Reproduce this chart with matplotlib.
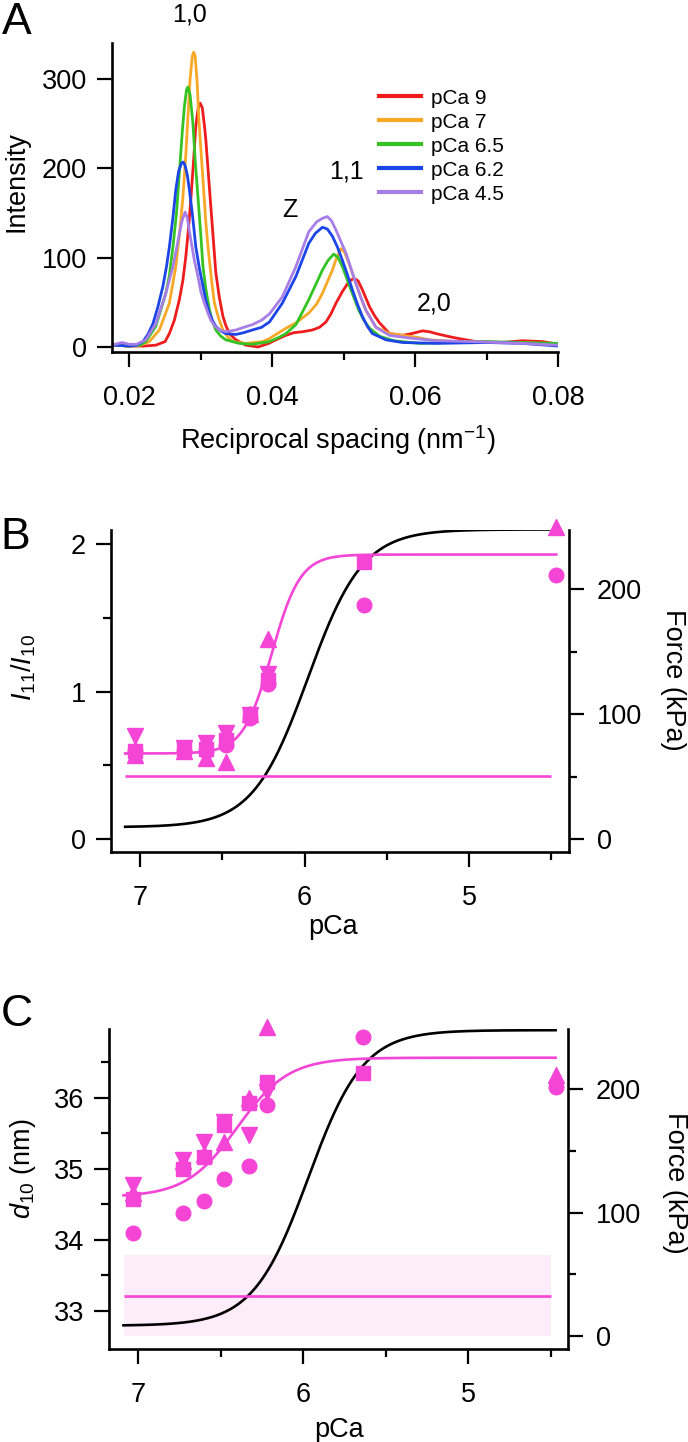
import numpy as np
import matplotlib
matplotlib.use('Agg')
import matplotlib.pyplot as plt
from matplotlib.ticker import FixedLocator

plt.rcParams['font.family'] = ['Liberation Sans', 'DejaVu Sans']
plt.rcParams['mathtext.fontset'] = 'custom'
plt.rcParams['mathtext.rm'] = 'Liberation Sans'
plt.rcParams['mathtext.it'] = 'Liberation Sans:italic'
plt.rcParams['mathtext.bf'] = 'Liberation Sans:bold'

# ---------------- Panel A data (reciprocal spacing, intensity) ----------------
q_pca9 = [0.018, 0.020, 0.022, 0.0237, 0.0250, 0.0256, 0.0263, 0.0270, 0.0275, 0.0279, 0.0283,
          0.0286, 0.0290, 0.0293, 0.0296, 0.0299, 0.0302, 0.0305, 0.0307, 0.0310, 0.0314, 0.0318,
          0.0321, 0.0326, 0.0331, 0.0335, 0.0340, 0.0349, 0.0363, 0.0380, 0.0395, 0.0405, 0.0419,
          0.0430, 0.0442, 0.0456, 0.0466, 0.0475, 0.0482, 0.0489, 0.0498, 0.0507, 0.0514, 0.0520,
          0.0526, 0.0536, 0.0543, 0.0550, 0.0564, 0.0582, 0.0595, 0.0610, 0.0620, 0.0629, 0.0645,
          0.0657, 0.0685, 0.0722, 0.0750, 0.0778, 0.0800]
i_pca9 = [2, 1, 1, 2, 6, 15, 30, 53, 75, 101, 135,
          165, 210, 247, 266, 273, 268, 248, 232, 200, 157, 115,
          83, 55, 34, 24, 15, 8, 2, 0, 4, 8, 13,
          16, 17, 19, 22, 28, 37, 49, 62, 73, 77, 74,
          64, 45, 35, 27, 15, 13, 15, 18, 17, 15, 12,
          10, 6, 5, 7, 6, 3]

q_pca7 = [0.018, 0.020, 0.0215, 0.0228, 0.0242, 0.0256, 0.0265, 0.0270, 0.0275, 0.0279, 0.0282,
          0.0285, 0.0288, 0.0290, 0.0292, 0.0295, 0.0297, 0.0300, 0.0303, 0.0307, 0.0310, 0.0315,
          0.0319, 0.0325, 0.0331, 0.0338, 0.0345, 0.0363, 0.0386, 0.0395, 0.0405, 0.0419, 0.0433,
          0.0451, 0.0462, 0.0470, 0.0477, 0.0484, 0.0490, 0.0496, 0.0501, 0.0507, 0.0517, 0.0524,
          0.0531, 0.0545, 0.0564, 0.0582, 0.0601, 0.0620, 0.0657, 0.0700, 0.0750, 0.0800]
i_pca7 = [2, 1, 2, 6, 19, 49, 90, 125, 168, 215, 258,
          300, 325, 330, 326, 295, 258, 222, 187, 140, 112, 75,
          49, 32, 19, 11, 6, 4, 6, 9, 14, 21, 27,
          38, 48, 60, 73, 86, 100, 110, 106, 94, 71, 55,
          41, 22, 15, 13, 11, 8, 6, 5, 5, 3]

q_pca65 = [0.018, 0.020, 0.0215, 0.0223, 0.0237, 0.0251, 0.0256, 0.0261, 0.0266, 0.0270, 0.0274,
           0.0277, 0.0280, 0.0282, 0.0285, 0.0289, 0.0292, 0.0296, 0.0300, 0.0303, 0.0307, 0.0312,
           0.0316, 0.0321, 0.0328, 0.0335, 0.0354, 0.0372, 0.0396, 0.0410, 0.0419, 0.0433, 0.0451,
           0.0462, 0.0470, 0.0478, 0.0486, 0.0492, 0.0498, 0.0504, 0.0510, 0.0521, 0.0528, 0.0536,
           0.0550, 0.0570, 0.0606, 0.0650, 0.0700, 0.0750, 0.0800]
i_pca65 = [2, 1, 2, 6, 23, 60, 80, 112, 150, 195, 240,
           269, 288, 291, 282, 250, 210, 168, 125, 90, 65, 42,
           29, 19, 12, 8, 4, 3, 6, 11, 15, 25, 53,
           72, 86, 97, 104, 100, 90, 77, 64, 41, 30, 21,
           12, 7, 4, 5, 6, 5, 4]

q_pca62 = [0.018, 0.020, 0.0210, 0.0219, 0.0226, 0.0233, 0.0240, 0.0247, 0.0252, 0.0256, 0.0261,
           0.0265, 0.0269, 0.0273, 0.02755, 0.0278, 0.0281, 0.0284, 0.0288, 0.0293, 0.0298, 0.0303,
           0.0307, 0.0312, 0.0316, 0.0321, 0.0328, 0.0335, 0.0349, 0.0360, 0.0372, 0.0385, 0.0396,
           0.0414, 0.0433, 0.0451, 0.0460, 0.0470, 0.0477, 0.0484, 0.0491, 0.0498, 0.0505, 0.0512,
           0.0519, 0.0526, 0.0533, 0.0540, 0.0559, 0.0582, 0.0630, 0.0700, 0.0750, 0.0800]
i_pca62 = [2, 1, 2, 6, 14, 26, 45, 68, 90, 112, 145,
           176, 197, 206, 207, 203, 193, 176, 150, 112, 88, 68,
           52, 38, 30, 23, 18, 15, 14, 16, 19, 22, 28,
           49, 79, 116, 127, 134, 132, 124, 112, 97, 81, 64,
           48, 34, 23, 15, 8, 5, 4, 5, 4, 1]

q_pca45 = [0.018, 0.019, 0.020, 0.021, 0.0223, 0.0237, 0.0251, 0.0261, 0.0266, 0.0270, 0.0274,
           0.0278, 0.0281, 0.0286, 0.0291, 0.0296, 0.0300, 0.0305, 0.0310, 0.0314, 0.0320, 0.0326,
           0.0335, 0.0349, 0.0360, 0.0372, 0.0385, 0.0396, 0.0414, 0.0433, 0.0451, 0.0462, 0.0470,
           0.0477, 0.0483, 0.0489, 0.0496, 0.0503, 0.0510, 0.0517, 0.0524, 0.0531, 0.0545, 0.0564,
           0.0592, 0.0630, 0.0680, 0.0750, 0.0800]
i_pca45 = [3, 5, 3, 3, 8, 26, 60, 90, 110, 127, 142,
           151, 145, 120, 97, 79, 62, 49, 38, 30, 23, 19,
           17, 19, 22, 25, 30, 37, 56, 90, 129, 140, 144,
           146, 141, 131, 118, 105, 88, 71, 55, 41, 22, 13,
           10, 7, 6, 4, 2]

spectra_labels = ['pCa 9', 'pCa 7', 'pCa 6.5', 'pCa 6.2', 'pCa 4.5']
spectra_colors = ['#ee1c1c', '#f7a826', '#33c424', '#1c45e8', '#a77ee6']

peak_labels = ['1,0', '1,1', 'Z', '2,0']
peak_label_q = [0.02835, 0.0503, 0.0425, 0.0626]
peak_label_i = [372, 196, 153, 49]

# ---------------- Panels B, C data ----------------
pca = [7.03, 6.73, 6.60, 6.48, 6.33, 6.22, 5.64, 4.47]
nan = np.nan

ratio_square = [0.60, 0.61, 0.61, 0.67, 0.84, 1.08, 1.88, nan]
ratio_circle = [0.60, 0.60, 0.60, 0.64, 0.82, 1.05, 1.59, 1.79]
ratio_tri_up = [0.57, 0.60, 0.55, 0.52, 0.85, 1.36, nan, 2.12]
ratio_tri_dn = [0.70, 0.62, 0.65, 0.72, 0.84, 1.12, nan, nan]

d10_circle = [34.09, 34.37, 34.54, 34.85, 35.03, 35.89, 36.85, 36.15]
d10_square = [34.57, 34.99, 35.16, 35.61, 35.92, 36.22, 36.35, nan]
d10_tri_up = [34.65, 35.10, 35.20, 35.38, 35.99, 36.99, nan, 36.31]
d10_tri_dn = [34.77, 35.12, 35.38, 35.66, 35.47, 36.08, nan, nan]

# Hill fit parameters (min, max, pCa50, nH)
force_fit_B = (9.4, 248.0, 5.98, 2.6)
force_fit_C = (8.4, 248.0, 5.97, 2.6)
ratio_fit = (0.58, 1.93, 6.20, 5.0)
d10_fit = (34.60, 36.56, 6.40, 2.8)
fit_pca_range = (7.09, 4.47)

ratio_relaxed = 0.43           # horizontal reference line, panel B
d10_relaxed = 33.21            # horizontal reference line, panel C
d10_relaxed_band = (32.64, 33.79)
ref_pca_range = (7.09, 4.50)

MAG = '#f545d6'
BAND = '#fdecf9'
FS = 19.5


def hill(p, lo, hi, p50, n):
    return lo + (hi - lo) / (1.0 + 10.0 ** (n * (p - p50)))


def style(ax, spines):
    for name, sp in ax.spines.items():
        sp.set_visible(name in spines)
        sp.set_linewidth(1.9)
    ax.tick_params(which='major', direction='out', length=11, width=1.6,
                   labelsize=FS, pad=7)
    ax.tick_params(which='minor', direction='out', length=6, width=1.6)


fig = plt.figure(figsize=(6.88, 14.42), dpi=100)

# =============================== Panel A ===============================
axA = fig.add_axes([0.1624, 0.7561, 0.6491, 0.2139])
for q, inten, lab, col in zip([q_pca9, q_pca7, q_pca65, q_pca62, q_pca45],
                              [i_pca9, i_pca7, i_pca65, i_pca62, i_pca45],
                              spectra_labels, spectra_colors):
    axA.plot(q, inten, color=col, lw=2.0, label=lab, solid_joinstyle='round')
axA.set_xlim(0.01754, 0.08)
axA.set_ylim(-5.3, 340)
axA.xaxis.set_major_locator(FixedLocator([0.02, 0.04, 0.06, 0.08]))
axA.xaxis.set_minor_locator(FixedLocator([0.03, 0.05, 0.07]))
axA.set_xticklabels(['0.02', '0.04', '0.06', '0.08'])
axA.yaxis.set_major_locator(FixedLocator([0, 100, 200, 300]))
style(axA, ['left', 'bottom'])
axA.tick_params(axis='x', pad=13)
axA.set_xlabel('Reciprocal spacing (nm$^{\\mathregular{-1}}$)', fontsize=FS)
axA.xaxis.set_label_coords(0.507, -0.286)
axA.xaxis.label.set_va('center')
axA.set_ylabel('Intensity', fontsize=FS)
axA.yaxis.set_label_coords(-0.213, 0.553)
axA.yaxis.label.set_va('center')
for t, xq, yi in zip(peak_labels, peak_label_q, peak_label_i):
    axA.text(xq, yi, t, ha='center', va='center', fontsize=18, clip_on=False)
leg = axA.legend(loc='upper left', bbox_to_anchor=(0.5985, 0.8525), frameon=False,
                 fontsize=15, handlelength=2.0, handletextpad=0.5, labelspacing=0.24,
                 borderpad=0, borderaxespad=0)
for ln in leg.get_lines():
    ln.set_linewidth(3.0)


def sigmoid_panel(rect, left_fit, force_fit, ylim, flim, yticks, yminor, ylabel,
                  ylab_xy, markers, ref_line, band=None):
    ax = fig.add_axes(rect)
    tw = ax.twinx()
    ax.set_zorder(tw.get_zorder() + 1)
    ax.patch.set_visible(False)

    if band is not None:
        # band is in left-axis units, drawn beneath the force curve
        tw.fill_between(list(ref_pca_range), band[0], band[1], color=BAND, lw=0,
                        zorder=0, transform=ax.transData)
    p = np.linspace(fit_pca_range[0], fit_pca_range[1], 400)
    tw.plot(p, hill(p, *force_fit), color='black', lw=1.9, zorder=2)

    ax.hlines(ref_line, ref_pca_range[0], ref_pca_range[1], color=MAG, lw=1.9, zorder=1)
    ax.plot(p, hill(p, *left_fit), color=MAG, lw=1.9, zorder=2)
    for vals, m, ms in markers:
        ax.plot(pca, vals, ls='none', marker=m, ms=ms, color=MAG, mec=MAG,
                clip_on=False, zorder=3)

    ax.set_xlim(7.176, 4.393)
    ax.set_ylim(*ylim)
    tw.set_ylim(*flim)
    ax.xaxis.set_major_locator(FixedLocator([7, 6, 5]))
    ax.xaxis.set_minor_locator(FixedLocator([6.5, 5.5, 4.5]))
    ax.set_xticklabels(['7', '6', '5'])
    ax.yaxis.set_major_locator(FixedLocator(yticks))
    ax.yaxis.set_minor_locator(FixedLocator(yminor))
    tw.yaxis.set_major_locator(FixedLocator([0, 100, 200]))
    tw.yaxis.set_minor_locator(FixedLocator([50, 150]))
    tw.set_yticklabels(['0', '100', '200'])
    style(ax, ['left', 'bottom'])
    style(tw, ['right'])
    tw.tick_params(axis='y', pad=9)
    ax.tick_params(axis='x', pad=13)

    ax.set_ylabel(ylabel, fontsize=FS)
    ax.yaxis.set_label_coords(*ylab_xy)
    ax.yaxis.label.set_va('center')
    tw.set_ylabel('Force (kPa)', fontsize=FS, rotation=270)
    return ax, tw


# =============================== Panel B ===============================
axB, twB = sigmoid_panel(
    [0.1613, 0.4094, 0.6657, 0.2231], ratio_fit, force_fit_B,
    (-0.086, 2.097), (-10.2, 247.6), [0, 1, 2], [0.5, 1.5],
    r'$\mathit{I}_{\mathregular{11}}\mathit{/I}_{\mathregular{10}}$', (-0.19, 0.571),
    [(ratio_circle, 'o', 10.5), (ratio_tri_up, '^', 11.5),
     (ratio_tri_dn, 'v', 11.5), (ratio_square, 's', 10.5)],
    ratio_relaxed)
twB.yaxis.set_label_coords(1.227, 0.534)
twB.yaxis.label.set_va('center')
axB.set_xlabel('pCa', fontsize=FS)
axB.xaxis.set_label_coords(0.485, -0.234)
axB.xaxis.label.set_va('center')

# =============================== Panel C ===============================
axC, twC = sigmoid_panel(
    [0.1589, 0.0645, 0.6671, 0.2217], d10_fit, force_fit_C,
    (32.46, 36.96), (-10.5, 248.7), [33, 34, 35, 36], [33.5, 34.5, 35.5, 36.5],
    r'$\mathit{d}_{\mathregular{10}}$ (nm)', (-0.188, 0.563),
    [(d10_circle, 'o', 10.5), (d10_tri_up, '^', 11.5),
     (d10_tri_dn, 'v', 11.5), (d10_square, 's', 10.5)],
    d10_relaxed, band=d10_relaxed_band)
twC.yaxis.set_label_coords(1.232, 0.519)
twC.yaxis.label.set_va('center')
axC.set_xlabel('pCa', fontsize=FS)
axC.xaxis.set_label_coords(0.5, -0.253)
axC.xaxis.label.set_va('center')

# panel letters
for letter, px, py in [('A', 17, 22), ('B', 15, 537), ('C', 17, 1014)]:
    fig.text(px / 688, 1 - py / 1442, letter, fontsize=32, ha='center', va='center')

fig.savefig('out.png', dpi=100)
